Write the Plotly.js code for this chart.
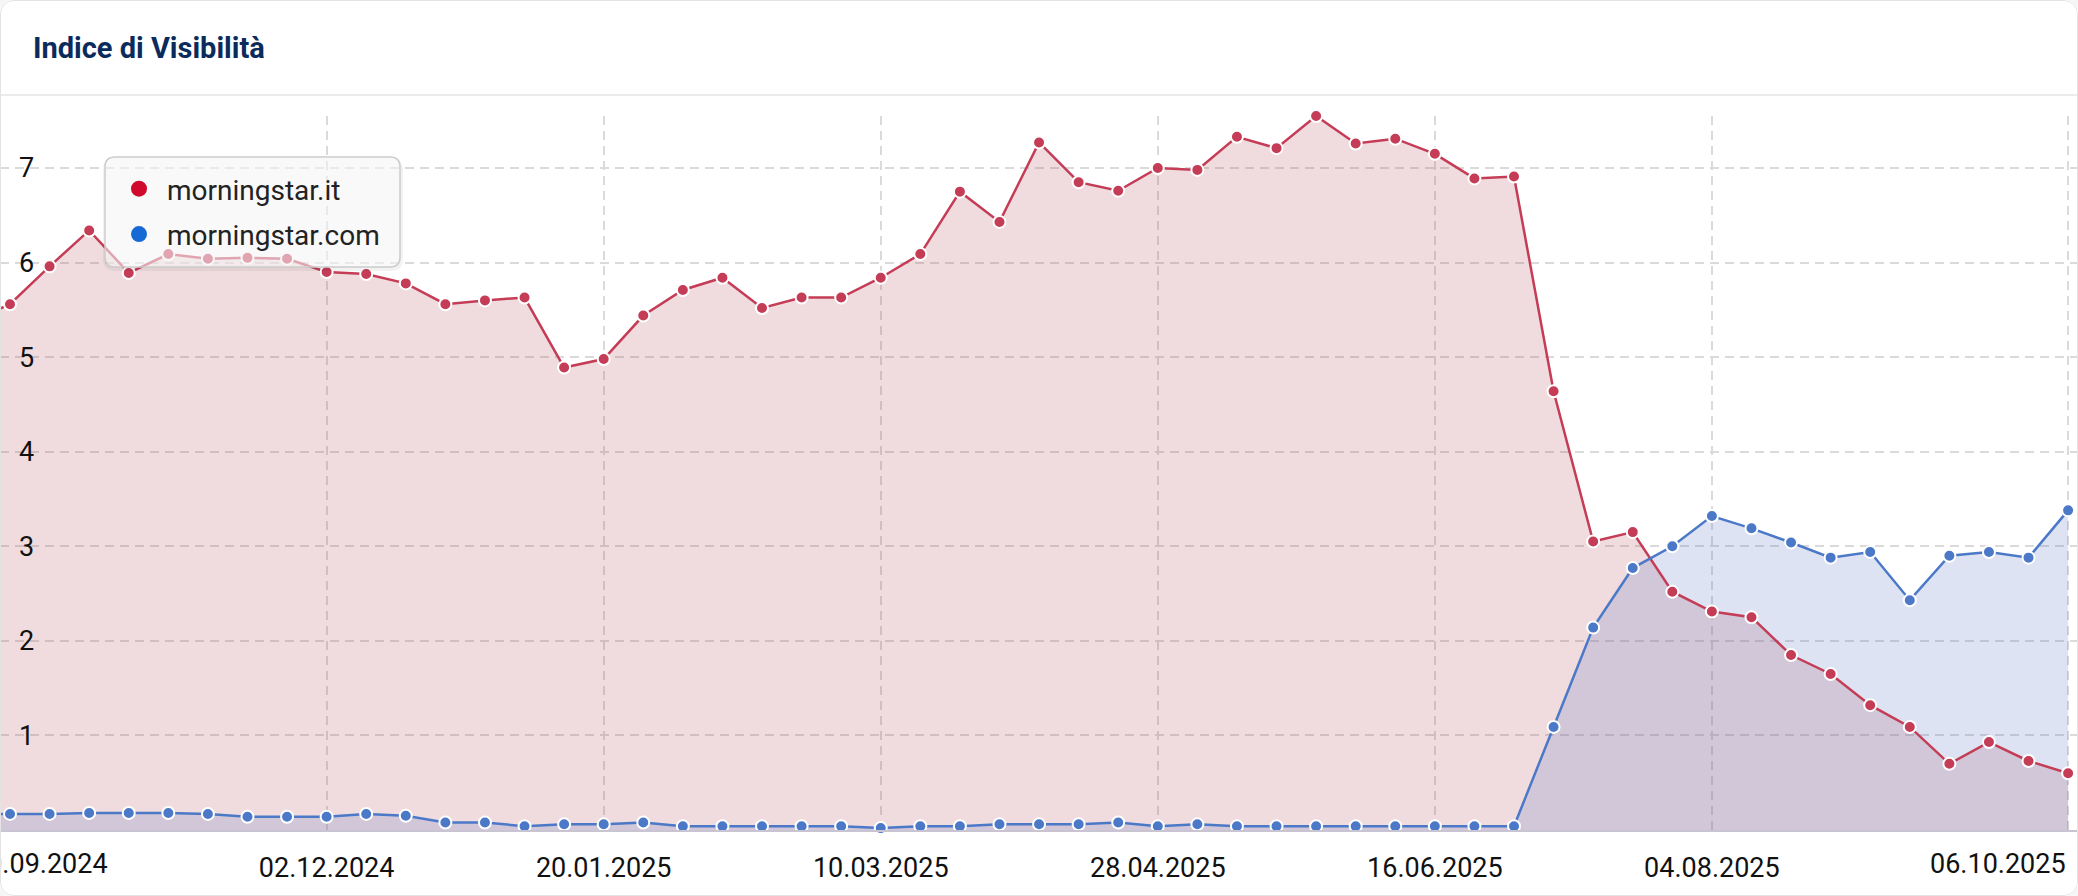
<!DOCTYPE html>
<html>
<head>
<meta charset="utf-8">
<script src="https://cdn.plot.ly/plotly-3.0.1.min.js"></script>
<style>
  html, body { margin: 0; padding: 0; background: #f6f6f6; }
  #wrap { position: relative; width: 2078px; height: 896px; border-radius: 14px; overflow: hidden; background: #fff; }
  #chart { position: absolute; left: 0; top: 0; width: 2078px; height: 896px; }
  #frame { position: absolute; left: 0; top: 0; right: 0; bottom: 0; border: 1px solid #e3e3e3; border-radius: 14px; pointer-events: none; }
</style>
</head>
<body>
<div id="wrap">
  <div id="chart"></div>
  <div id="frame"></div>
</div>
<script>
// weekly dates (first one sits just left of the visible area)
const dates = [
  '30.09.2024', '07.10.2024', '14.10.2024', '21.10.2024', '28.10.2024', '04.11.2024', '11.11.2024', '18.11.2024',
  '25.11.2024', '02.12.2024', '09.12.2024', '16.12.2024', '23.12.2024', '30.12.2024', '06.01.2025', '13.01.2025',
  '20.01.2025', '27.01.2025', '03.02.2025', '10.02.2025', '17.02.2025', '24.02.2025', '03.03.2025', '10.03.2025',
  '17.03.2025', '24.03.2025', '31.03.2025', '07.04.2025', '14.04.2025', '21.04.2025', '28.04.2025', '05.05.2025',
  '12.05.2025', '19.05.2025', '26.05.2025', '02.06.2025', '09.06.2025', '16.06.2025', '23.06.2025', '30.06.2025',
  '07.07.2025', '14.07.2025', '21.07.2025', '28.07.2025', '04.08.2025', '11.08.2025', '18.08.2025', '25.08.2025',
  '01.09.2025', '08.09.2025', '15.09.2025', '22.09.2025', '29.09.2025', '06.10.2025',
];

// morningstar.it
const itValues = [
  5.37, 5.56, 5.96, 6.34, 5.89, 6.09, 6.04, 6.05, 6.04, 5.90,
  5.88, 5.78, 5.56, 5.60, 5.63, 4.89, 4.98, 5.44, 5.71, 5.84,
  5.52, 5.63, 5.63, 5.84, 6.09, 6.75, 6.43, 7.27, 6.85, 6.76,
  7.00, 6.98, 7.33, 7.21, 7.55, 7.26, 7.31, 7.15, 6.89, 6.91,
  4.64, 3.05, 3.15, 2.52, 2.31, 2.25, 1.85, 1.65, 1.32, 1.09,
  0.70, 0.93, 0.73, 0.60,
];

// morningstar.com
const comValues = [
  0.17, 0.17, 0.17, 0.18, 0.18, 0.18, 0.17, 0.14, 0.14, 0.14,
  0.17, 0.15, 0.08, 0.08, 0.04, 0.06, 0.06, 0.08, 0.04, 0.04,
  0.04, 0.04, 0.04, 0.02, 0.04, 0.04, 0.06, 0.06, 0.06, 0.08,
  0.04, 0.06, 0.04, 0.04, 0.04, 0.04, 0.04, 0.04, 0.04, 0.04,
  1.09, 2.14, 2.77, 3.00, 3.32, 3.19, 3.04, 2.88, 2.94, 2.43,
  2.90, 2.94, 2.88, 3.38,
];

const tickDates = ['30.09.2024', '02.12.2024', '20.01.2025', '10.03.2025', '28.04.2025', '16.06.2025', '04.08.2025', '06.10.2025'];
const yTicks = [1, 2, 3, 4, 5, 6, 7];
const seriesNames = ['morningstar.it', 'morningstar.com'];

const RED = '#c43c56';
const BLUE = '#4b79c8';
const FONT = 'Roboto, "Open Sans", sans-serif';

// plot box in px (page is 2078 x 896)
const W = 2078;
const PLOT_TOP = 116;
const PLOT_BOTTOM = 830;
const PH = PLOT_BOTTOM - PLOT_TOP;
const px2x = (p) => p / W;
const px2y = (p) => (PLOT_BOTTOM - p) / PH;

// the chart is scrolled: first week is cut off on the left
const X_RANGE = [0.747, 53.25];
const unitPx = W / (X_RANGE[1] - X_RANGE[0]);

function roundedRect(x0, y0, x1, y1, r) {
  const X = px2x;
  const Y = px2y;
  return `M ${X(x0 + r)},${Y(y0)} L ${X(x1 - r)},${Y(y0)} Q ${X(x1)},${Y(y0)} ${X(x1)},${Y(y0 + r)}`
    + ` L ${X(x1)},${Y(y1 - r)} Q ${X(x1)},${Y(y1)} ${X(x1 - r)},${Y(y1)}`
    + ` L ${X(x0 + r)},${Y(y1)} Q ${X(x0)},${Y(y1)} ${X(x0)},${Y(y1 - r)}`
    + ` L ${X(x0)},${Y(y0 + r)} Q ${X(x0)},${Y(y0)} ${X(x0 + r)},${Y(y0)} Z`;
}

const fillTrace = (y, color) => ({
  x: dates, y: y, type: 'scatter', mode: 'none', fill: 'tozeroy', fillcolor: color,
  hoverinfo: 'skip', showlegend: false,
});
const lineTrace = (y, name, color) => ({
  x: dates, y: y, name: name, type: 'scatter', mode: 'lines+markers', showlegend: false,
  line: { color: color, width: 2.5 },
  marker: { size: 12, color: color, line: { color: '#ffffff', width: 2 } },
  cliponaxis: false,
});
const legendTrace = (name, color, group) => ({
  x: [null], y: [null], name: name, type: 'scatter', mode: 'markers', legendgroup: group,
  marker: { size: 18, color: color },
});

const data = [
  fillTrace(itValues, 'rgba(180,80,95,0.2)'),
  fillTrace(comValues, 'rgba(85,115,190,0.2)'),
  lineTrace(itValues, seriesNames[0], RED),
  lineTrace(comValues, seriesNames[1], BLUE),
  legendTrace(seriesNames[0], '#cf0a2c', 'a'),
  legendTrace(seriesNames[1], '#1769d6', 'b'),
];

// edge labels are justified inward like the original chart
const firstIdx = dates.indexOf(tickDates[0]);
const edgeLabel = (text, x, anchor, shift) => ({
  x: x, xref: 'x', xanchor: anchor, xshift: shift,
  y: 0, yref: 'paper', yanchor: 'top', yshift: -16,
  text: text, showarrow: false, font: { family: FONT, size: 27, color: '#111111' },
});

const layout = {
  width: 2078,
  height: 896,
  margin: { l: 0, r: 0, t: PLOT_TOP, b: 896 - PLOT_BOTTOM, pad: 0 },
  paper_bgcolor: '#ffffff',
  plot_bgcolor: '#ffffff',
  font: { family: FONT, color: '#111111' },
  title: {
    text: 'Indice di Visibilità',
    font: { family: FONT, size: 29, weight: 700, color: '#0b2b5c' },
    xref: 'container', x: 33 / W, xanchor: 'left',
    yref: 'container', y: 1 - 48 / 896, yanchor: 'middle',
  },
  xaxis: {
    type: 'category',
    range: X_RANGE,
    tickmode: 'array',
    tickvals: tickDates,
    ticktext: tickDates.map((d, i) => (i === 0 || i === tickDates.length - 1 ? '' : d)),
    ticks: '',
    ticklabelstandoff: 13,
    showgrid: true,
    gridcolor: '#dadada',
    gridwidth: 2,
    griddash: '9px,6px',
    showline: true,
    linecolor: '#c9c4d2',
    linewidth: 2,
    zeroline: false,
    tickfont: { family: FONT, size: 27, color: '#111111' },
    fixedrange: true,
  },
  yaxis: {
    range: [0, 7.55],
    tickmode: 'array',
    tickvals: yTicks,
    ticks: '',
    ticklabelposition: 'inside',
    ticklabelstandoff: 16,
    showgrid: true,
    gridcolor: '#dadada',
    gridwidth: 2,
    griddash: '9px,6px',
    zeroline: false,
    showline: false,
    tickfont: { family: FONT, size: 27, color: '#111111' },
    fixedrange: true,
  },
  showlegend: true,
  legend: {
    x: px2x(111), xanchor: 'left',
    y: px2y(164), yanchor: 'top',
    bgcolor: 'rgba(0,0,0,0)',
    borderwidth: 0,
    font: { family: FONT, size: 28, color: '#222222' },
    itemwidth: 46,
    tracegroupgap: 6,
    itemclick: false,
    itemdoubleclick: false,
  },
  shapes: [
    // header separator
    { type: 'line', xref: 'paper', yref: 'paper', x0: 0, x1: 1, y0: px2y(95), y1: px2y(95),
      line: { color: '#ebebeb', width: 2 } },
    // legend box shadow + box
    { type: 'path', xref: 'paper', yref: 'paper', layer: 'above', path: roundedRect(103, 158, 403, 271, 12),
      fillcolor: 'rgba(0,0,0,0.05)', line: { width: 0 } },
    { type: 'path', xref: 'paper', yref: 'paper', layer: 'above', path: roundedRect(105, 157, 400, 267, 10),
      fillcolor: 'rgba(255,255,255,0.55)', line: { color: '#cccccc', width: 1.5 } },
  ],
  annotations: [
    edgeLabel(tickDates[0], X_RANGE[0], 'left', (firstIdx - X_RANGE[0]) * unitPx),
    edgeLabel(tickDates[tickDates.length - 1], tickDates[tickDates.length - 1], 'right', 0),
  ],
};

Plotly.newPlot('chart', data, layout, { displayModeBar: false, staticPlot: true });
</script>
</body>
</html>
